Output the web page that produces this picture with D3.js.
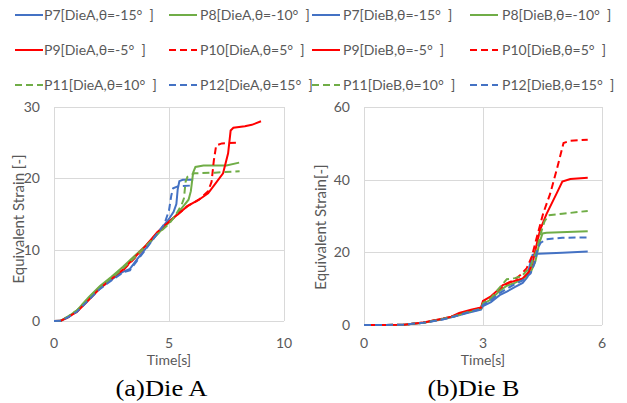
<!DOCTYPE html>
<html>
<head>
<meta charset="utf-8">
<script src="https://cdn.jsdelivr.net/npm/d3@7"></script>
<style>
  body { margin: 0; background: #fff; }
  text { font-family: Lato, "Open Sans", sans-serif; fill: #595959; white-space: pre; }
  text.caption { font-family: "Liberation Serif", serif; fill: #000; }
</style>
</head>
<body>
<script>
const width = 627;
const height = 403;

// series labels
const pointNames = ["P7", "P8", "P9", "P10", "P11", "P12"];
const angles = ["-15", "-10", "-5", "5", "10", "15"];

// Die A, [time s, equivalent strain]
const dieA_P7 = [[0,0],[0.3,0.05],[0.6,0.5],[1.0,1.4],[1.3,2.4],[1.5,3.1],[2.0,4.6],[2.5,5.8],[3.0,6.9],[3.3,7.3],[3.6,8.6],[4.0,10.2],[4.5,12.3],[5.0,14.3],[5.2,15.3],[5.32,16.4],[5.38,18.5],[5.45,19.6],[5.6,19.8],[6.05,19.8]];
const dieA_P8 = [[0,0],[0.3,0.05],[0.6,0.6],[1.0,1.5],[1.5,3.3],[2.0,4.9],[2.5,6.2],[3.0,7.6],[3.5,9.1],[4.0,10.6],[4.5,12.2],[5.0,13.8],[5.3,14.8],[5.6,16.0],[5.85,17.0],[5.95,18.2],[6.05,20.8],[6.15,21.6],[6.5,21.8],[7.5,21.8],[8.05,22.2]];
const dieA_P9 = [[0,0],[0.3,0.05],[0.6,0.5],[1.0,1.3],[1.5,2.9],[2.0,4.6],[2.5,5.9],[3.0,7.2],[3.5,8.9],[4.0,10.6],[4.5,12.5],[5.0,13.9],[5.4,15.0],[5.8,16.1],[6.3,17.0],[6.7,17.9],[7.0,19.2],[7.35,20.7],[7.57,23.5],[7.68,26.7],[7.8,27.1],[8.3,27.3],[8.6,27.5],[9.0,28.0]];
const dieA_P10 = [[0,0],[0.3,0.05],[0.6,0.5],[1.0,1.3],[1.5,3.0],[2.0,4.7],[2.5,5.9],[3.0,7.1],[3.5,8.8],[4.0,10.5],[4.5,12.4],[5.0,13.9],[5.4,15.0],[5.8,16.1],[6.3,17.0],[6.7,18.2],[6.85,19.5],[6.95,22.5],[7.05,24.6],[7.3,24.9],[8.07,25.0]];
const dieA_P11 = [[0,0],[0.3,0.05],[0.6,0.6],[1.0,1.5],[1.5,3.2],[2.0,4.8],[2.5,6.0],[3.0,7.4],[3.5,8.9],[4.0,10.5],[4.5,12.2],[5.0,13.6],[5.3,14.9],[5.55,16.3],[5.65,17.2],[5.72,19.5],[5.8,20.2],[6.1,20.7],[7.0,20.8],[8.07,21.0]];
const dieA_P12 = [[0,0],[0.3,0.05],[0.6,0.5],[1.0,1.3],[1.5,2.9],[2.0,4.5],[2.5,5.7],[3.0,6.8],[3.3,7.1],[3.6,8.4],[4.0,10.1],[4.5,12.3],[4.8,13.6],[5.0,15.5],[5.1,17.6],[5.18,18.6],[5.4,18.9],[6.05,19.0]];

// Die B, [time s, equivalent strain]
const dieB_P7 = [[0,0],[0.5,0],[1.0,0.1],[1.5,0.6],[2.0,1.6],[2.3,2.4],[2.6,3.3],[2.95,4.2],[3.0,5.2],[3.2,6.3],[3.42,8.2],[3.6,9.2],[3.8,10.4],[4.0,11.6],[4.12,13.2],[4.18,16.5],[4.25,19.3],[4.4,19.6],[5.0,19.9],[5.64,20.2]];
const dieB_P8 = [[0,0],[0.5,0],[1.0,0.1],[1.5,0.6],[2.0,1.7],[2.3,2.5],[2.6,3.6],[2.95,4.6],[3.0,5.8],[3.2,7.0],[3.42,9.4],[3.6,10.8],[3.8,11.6],[4.0,12.6],[4.2,14.5],[4.32,17.5],[4.42,22.5],[4.5,25.2],[4.6,25.4],[5.64,25.8]];
const dieB_P9 = [[0,0],[0.5,0],[1.0,0.1],[1.5,0.7],[2.0,1.8],[2.2,2.3],[2.4,3.3],[2.7,4.2],[2.95,4.8],[3.0,6.6],[3.2,7.9],[3.37,9.6],[3.5,11.0],[3.7,11.8],[4.0,12.8],[4.15,14.5],[4.25,17.0],[4.35,22.0],[4.44,26.2],[4.6,30.5],[4.86,36.3],[5.0,39.5],[5.2,40.2],[5.64,40.5]];
const dieB_P10 = [[0,0],[0.5,0],[1.0,0.1],[1.5,0.7],[2.0,1.7],[2.3,2.6],[2.6,3.7],[2.95,4.7],[3.0,6.2],[3.2,7.6],[3.4,9.8],[3.6,11.4],[3.8,12.5],[3.95,13.8],[4.1,15.6],[4.23,18.8],[4.36,24.3],[4.52,30.8],[4.69,36.0],[4.86,42.8],[5.03,50.1],[5.2,50.7],[5.64,51.0]];
const dieB_P11 = [[0,0],[0.5,0],[1.0,0.1],[1.5,0.6],[2.0,1.7],[2.3,2.5],[2.6,3.5],[2.95,4.5],[3.0,6.0],[3.2,7.4],[3.42,10.3],[3.6,12.6],[3.8,12.9],[3.97,13.4],[4.2,16.0],[4.35,20.5],[4.45,25.0],[4.55,28.5],[4.65,30.2],[5.0,30.6],[5.64,31.4]];
const dieB_P12 = [[0,0],[0.5,0],[1.0,0.1],[1.5,0.6],[2.0,1.6],[2.3,2.4],[2.6,3.4],[2.95,4.4],[3.0,5.5],[3.2,6.8],[3.42,8.8],[3.6,10.0],[3.8,11.2],[4.0,12.3],[4.2,14.2],[4.3,17.0],[4.38,21.0],[4.45,22.6],[4.6,23.6],[5.0,24.0],[5.64,24.1]];

const xTicksA = [0, 5, 10];
const yTicksA = [0, 10, 20, 30];
const xTicksB = [0, 3, 6];
const yTicksB = [0, 20, 40, 60];

const seriesColors = ["#4472c4", "#70ad47", "#ff0000", "#ff0000", "#70ad47", "#4472c4"];
const seriesDashed = [false, false, false, true, true, true];

const charts = [
  {
    die: "DieA", series: [dieA_P7, dieA_P8, dieA_P9, dieA_P10, dieA_P11, dieA_P12],
    xTicks: xTicksA, yTicks: yTicksA,
    x0: 54, x1: 284, y0: 321, y1: 107,
    yTitle: "Equivalent Strain [-]", yTitleX: 19, yTitleY: 219,
    caption: "(a)Die A", captionX: 161.5,
    legendLine: [15, 169], legendText: [44, 200]
  },
  {
    die: "DieB", series: [dieB_P7, dieB_P8, dieB_P9, dieB_P10, dieB_P11, dieB_P12],
    xTicks: xTicksB, yTicks: yTicksB,
    x0: 364, x1: 602, y0: 325, y1: 107,
    yTitle: "Equivalent Strain[-]", yTitleX: 321, yTitleY: 227,
    caption: "(b)Die B", captionX: 473.5,
    legendLine: [312, 470], legendText: [343, 502]
  }
];

const svg = d3.select("body").append("svg").attr("width", width).attr("height", height);

charts.forEach(drawChart);

function drawChart(c) {
  const x = d3.scaleLinear().domain(d3.extent(c.xTicks)).range([c.x0, c.x1]);
  const y = d3.scaleLinear().domain(d3.extent(c.yTicks)).range([c.y0, c.y1]);
  const g = svg.append("g");

  // grid
  g.selectAll(".hgrid")
    .data(c.yTicks)
    .enter()
    .append("line")
    .attr("x1", c.x0).attr("x2", c.x1)
    .attr("y1", (d) => Math.round(y(d)) + 0.5).attr("y2", (d) => Math.round(y(d)) + 0.5)
    .attr("stroke", "#d9d9d9");
  g.selectAll(".vgrid")
    .data(c.xTicks)
    .enter()
    .append("line")
    .attr("x1", (d) => Math.round(x(d)) + 0.5).attr("x2", (d) => Math.round(x(d)) + 0.5)
    .attr("y1", c.y1).attr("y2", c.y0)
    .attr("stroke", "#d9d9d9");

  // tick labels
  g.selectAll(".ylab")
    .data(c.yTicks)
    .enter()
    .append("text")
    .attr("x", c.x0 - 14)
    .attr("y", (d) => y(d) + 5)
    .attr("text-anchor", "end")
    .attr("font-size", 14)
    .text((d) => d);
  g.selectAll(".xlab")
    .data(c.xTicks)
    .enter()
    .append("text")
    .attr("x", (d) => x(d))
    .attr("y", 348)
    .attr("text-anchor", "middle")
    .attr("font-size", 14)
    .text((d) => d);

  g.append("text")
    .attr("x", (c.x0 + c.x1) / 2)
    .attr("y", 365)
    .attr("text-anchor", "middle")
    .attr("font-size", 14)
    .text("Time[s]");
  g.append("text")
    .attr("transform", `translate(${c.yTitleX + 5},${c.yTitleY}) rotate(-90)`)
    .attr("text-anchor", "middle")
    .attr("font-size", 15)
    .text(c.yTitle);

  g.append("text")
    .attr("class", "caption")
    .attr("x", c.captionX)
    .attr("y", 396)
    .attr("text-anchor", "middle")
    .attr("font-size", 24)
    .attr("textLength", 92)
    .attr("lengthAdjust", "spacingAndGlyphs")
    .text(c.caption);

  // series
  const line = d3.line().x((d) => x(d[0])).y((d) => y(d[1]));
  g.selectAll(".series")
    .data(c.series)
    .enter()
    .append("path")
    .attr("d", line)
    .attr("fill", "none")
    .attr("stroke", (d, i) => seriesColors[i])
    .attr("stroke-width", 2)
    .attr("stroke-dasharray", (d, i) => (seriesDashed[i] ? "7,4" : null));

  // legend
  const rows = [15, 50, 85];
  pointNames.forEach((name, i) => {
    const col = i % 2;
    const ly = rows[Math.floor(i / 2)];
    g.append("line")
      .attr("x1", c.legendLine[col]).attr("x2", c.legendLine[col] + 28)
      .attr("y1", ly).attr("y2", ly)
      .attr("stroke", seriesColors[i])
      .attr("stroke-width", 2)
      .attr("stroke-dasharray", seriesDashed[i] ? "7,4" : null);
    g.append("text")
      .attr("x", c.legendText[col])
      .attr("y", ly + 5)
      .attr("font-size", 14)
      .text(`${name}[${c.die},θ=${angles[i]}°  ]`);
  });
}
</script>
</body>
</html>
